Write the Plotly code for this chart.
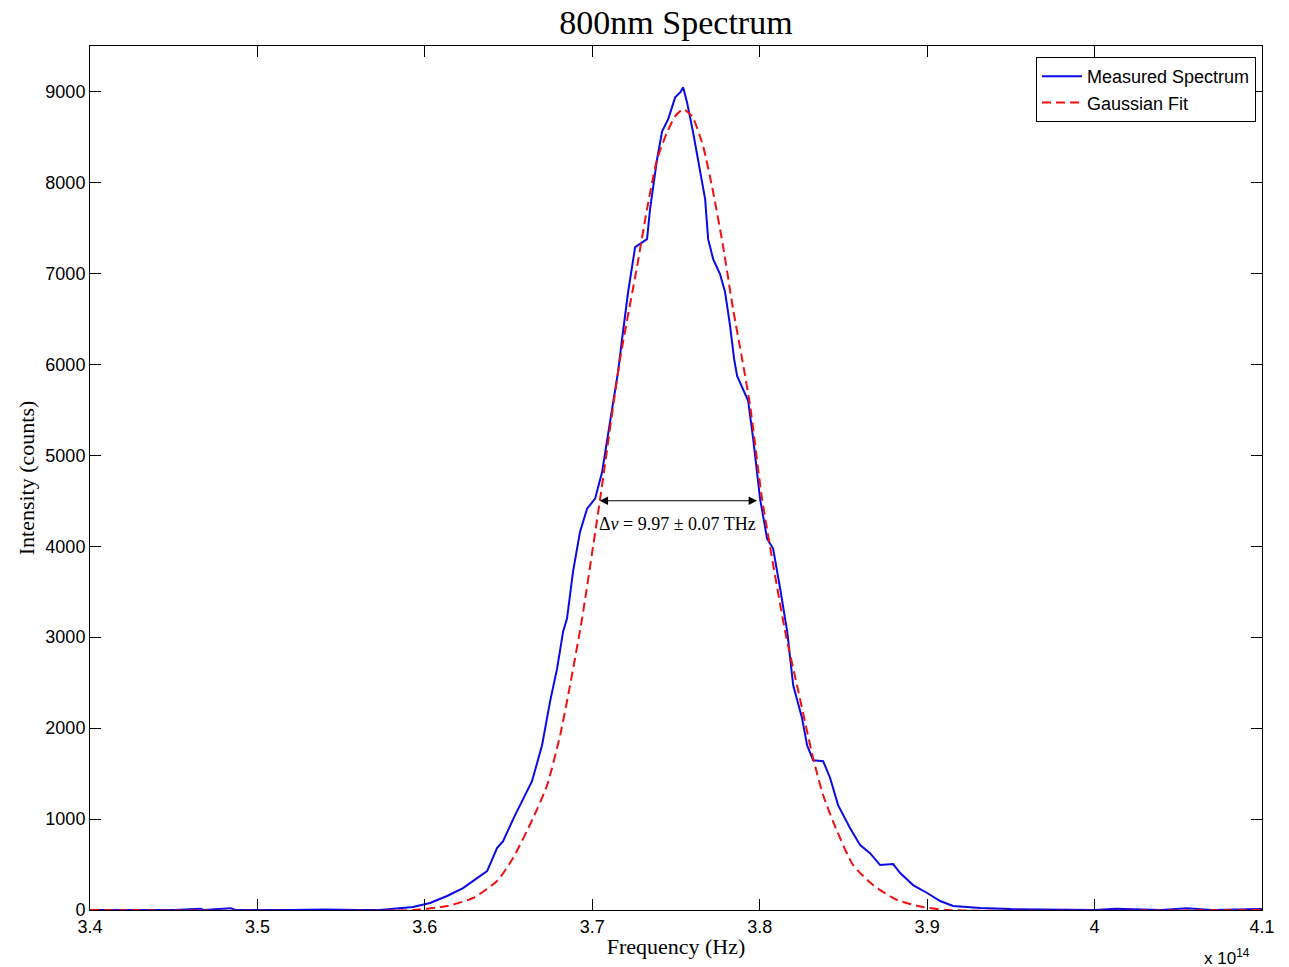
import plotly.graph_objects as go

# Measured spectrum (frequency in units of 1e14 Hz, intensity in counts)
meas_freq = [3.400, 3.430, 3.450, 3.466, 3.468, 3.484, 3.487, 3.520, 3.540, 3.560, 3.5732,
             3.5929, 3.6031, 3.6133, 3.6228, 3.6312, 3.6372, 3.6431, 3.6467, 3.6539, 3.6587,
             3.6640, 3.6700, 3.6748, 3.6790, 3.6826, 3.6849, 3.6885, 3.6927, 3.6969, 3.7017,
             3.7059, 3.7106, 3.7154, 3.7178, 3.7214, 3.7256, 3.7297, 3.7327, 3.7345, 3.7387,
             3.7417, 3.7453, 3.7495, 3.7525, 3.7543, 3.7566, 3.7602, 3.7644, 3.7674, 3.7692,
             3.7722, 3.7763, 3.7793, 3.7823, 3.7847, 3.7865, 3.7931, 3.7961, 3.8002, 3.8044,
             3.8080, 3.8122, 3.8164, 3.8200, 3.8253, 3.8283, 3.8319, 3.8379, 3.8421, 3.8468,
             3.8540, 3.8600, 3.8659, 3.8719, 3.8797, 3.8839, 3.8916, 3.9000, 3.9078, 3.9155,
             3.9317, 3.9500, 3.9700, 4.0000, 4.0130, 4.0400, 4.0550, 4.0700, 4.1000]
meas_counts = [0, 0, 0, 15, 0, 20, 0, 0, 5, 0, 0,
               33, 77, 154, 241, 351, 428, 681, 757, 1043, 1229,
               1416, 1811, 2294, 2656, 3063, 3205, 3721, 4160, 4413, 4523,
               4819, 5368, 5917, 6279, 6795, 7289, 7344, 7376, 7706, 8255,
               8562, 8694, 8935, 8990, 9045, 8880, 8551, 8112, 7816, 7376,
               7157, 6992, 6795, 6422, 6059, 5873, 5598, 5181, 4523, 4083,
               3974, 3535, 3063, 2470, 2108, 1811, 1647, 1636, 1449, 1153,
               900, 713, 625, 494, 505, 406, 274, 187, 99, 44,
               22, 10, 5, 0, 15, 0, 20, 0, 10]

# Gaussian fit
fit_freq = [3.400, 3.5929, 3.6133, 3.6288, 3.6431, 3.6527, 3.6646, 3.6730, 3.6808, 3.6867,
            3.6939, 3.7047, 3.7166, 3.7268, 3.7327, 3.7387, 3.7447, 3.7495, 3.7543, 3.7596,
            3.7662, 3.7722, 3.7781, 3.7841, 3.7895, 3.7943, 3.8014, 3.8152, 3.8223, 3.8319,
            3.8379, 3.8462, 3.8558, 3.8677, 3.8821, 3.8976, 3.9120, 4.1000]
fit_counts = [0, 0, 44, 132, 318, 571, 1010, 1372, 1921, 2470,
              3205, 4523, 6059, 7080, 7706, 8255, 8551, 8727, 8804, 8727,
              8397, 7892, 7300, 6608, 6059, 5543, 4523, 3063, 2470, 1669,
              1262, 867, 494, 274, 110, 33, 0, 0]

x_ticks = [3.4, 3.5, 3.6, 3.7, 3.8, 3.9, 4.0, 4.1]
y_ticks = [0, 1000, 2000, 3000, 4000, 5000, 6000, 7000, 8000, 9000]

fwhm_left, fwhm_right, fwhm_level = 3.7035, 3.7984, 4500
fwhm_label = "Δ<i>v</i> = 9.97 ± 0.07 THz"

serif = "Liberation Serif"
sans = "Liberation Sans"

fig = go.Figure()
fig.add_trace(go.Scatter(x=meas_freq, y=meas_counts, mode="lines", name="Measured Spectrum",
                         line=dict(color="#0a0ae6", width=2)))
fig.add_trace(go.Scatter(x=fit_freq, y=fit_counts, mode="lines", name="Gaussian Fit",
                         line=dict(color="#f01010", width=2, dash="9px,5px", shape="spline",
                                   smoothing=0.6)))

fig.add_annotation(x=fwhm_right, y=fwhm_level, ax=fwhm_left, ay=fwhm_level,
                   xref="x", yref="y", axref="x", ayref="y", text="", showarrow=True,
                   arrowhead=2, arrowside="end+start", arrowsize=1.4, arrowwidth=1.2,
                   arrowcolor="black")
fig.add_annotation(x=(fwhm_left + fwhm_right) / 2, y=fwhm_level, xref="x", yref="y",
                   text=fwhm_label, showarrow=False, yanchor="top", yshift=-11,
                   font=dict(family=serif, size=18, color="black"))
fig.add_annotation(x=1.0, y=0, xref="paper", yref="paper", text="x 10<sup>14</sup>",
                   showarrow=False, xanchor="right", yanchor="top", yshift=-34, xshift=-10,
                   font=dict(family=sans, size=17, color="black"))

axis_common = dict(showline=True, linecolor="black", linewidth=1, mirror="ticks",
                   ticks="inside", ticklen=11, tickwidth=1, tickcolor="black",
                   showgrid=False, zeroline=False,
                   tickfont=dict(family=sans, size=18, color="black"))

fig.update_layout(
    width=1289, height=967,
    margin=dict(l=90, r=27, t=46, b=55),
    paper_bgcolor="white", plot_bgcolor="white",
    title=dict(text="800nm Spectrum", x=0.5, xref="paper", y=1 - 22 / 967,
               yref="container", xanchor="center", yanchor="middle",
               font=dict(family=serif, size=34, color="black")),
    xaxis=dict(range=[3.4, 4.1], tickvals=x_ticks, ticktext=[f"{v:g}" for v in x_ticks],
               title=dict(text="Frequency (Hz)", standoff=3,
                          font=dict(family=serif, size=22, color="black")),
               **axis_common),
    yaxis=dict(range=[0, 9500], tickvals=y_ticks, ticktext=[str(v) for v in y_ticks],
               title=dict(text="Intensity (counts)", standoff=4,
                          font=dict(family=serif, size=22, color="black")),
               **axis_common),
    legend=dict(x=(1256 - 90) / 1172, y=1 - (57 - 46) / 866, xanchor="right", yanchor="top",
                bgcolor="white", bordercolor="black", borderwidth=1, itemwidth=40,
                font=dict(family=sans, size=18, color="black"), tracegroupgap=0),
    showlegend=True,
)

fig.write_html("out.html")
